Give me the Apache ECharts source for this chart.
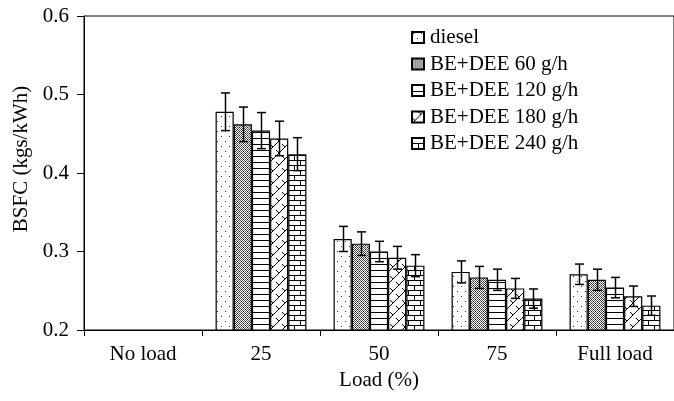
<!DOCTYPE html>
<html>
<head>
<meta charset="utf-8">
<script src="https://cdn.jsdelivr.net/npm/echarts@6/dist/echarts.min.js"></script>
<style>
  html, body { margin: 0; padding: 0; background: #fff; }
  #chart { width: 674px; height: 401px; }
</style>
</head>
<body>
<div id="chart"></div>
<script>
// Engine load categories and BSFC measurements (kgs/kWh) with error margins
const categories = ['No load', '25', '50', '75', 'Full load'];
const seriesNames = ['diesel', 'BE+DEE 60 g/h', 'BE+DEE 120 g/h', 'BE+DEE 180 g/h', 'BE+DEE 240 g/h'];

const diesel   = [null, 0.478, 0.316, 0.274, 0.271];
const dee60    = [null, 0.462, 0.310, 0.267, 0.264];
const dee120   = [null, 0.454, 0.300, 0.264, 0.254];
const dee180   = [null, 0.444, 0.292, 0.253, 0.243];
const dee240   = [null, 0.424, 0.282, 0.240, 0.231];

const errDiesel = [null, 0.024, 0.016, 0.014, 0.013];
const err60     = [null, 0.022, 0.015, 0.014, 0.0135];
const err120    = [null, 0.023, 0.013, 0.0135, 0.013];
const err180    = [null, 0.022, 0.0145, 0.0127, 0.013];
const err240    = [null, 0.021, 0.014, 0.0123, 0.0123];

const yTicks = [0.2, 0.3, 0.4, 0.5, 0.6];

const values = [diesel, dee60, dee120, dee180, dee240];
const errors = [errDiesel, err60, err120, err180, err240];

const FONT = '"Liberation Serif", "Times New Roman", serif';
const FS = 21;
const CAT_GAP = 0.23;

// Monochrome fill patterns drawn on small tiles
function tile(w, h, draw) {
  const c = document.createElement('canvas');
  c.width = w; c.height = h;
  const ctx = c.getContext('2d');
  ctx.fillStyle = '#fff';
  ctx.fillRect(0, 0, w, h);
  ctx.fillStyle = '#000';
  ctx.strokeStyle = '#000';
  ctx.lineWidth = 1;
  draw(ctx);
  return { image: c, repeat: 'repeat' };
}

const patterns = [
  // sparse dots
  tile(8, 10, ctx => {
    ctx.fillStyle = '#333';
    ctx.fillRect(1, 1, 1, 1);
    ctx.fillRect(5, 6, 1, 1);
  }),
  // dense stipple
  tile(4, 4, ctx => {
    ctx.fillStyle = '#555';
    for (let y = 0; y < 4; y++) for (let x = 0; x < 4; x++) {
      if ((x + y) % 2 === 0) ctx.fillRect(x, y, 1, 1);
    }
    ctx.fillStyle = '#111';
    ctx.fillRect(1, 1, 1, 1);
    ctx.fillRect(3, 3, 1, 1);
  }),
  // horizontal stripes
  tile(6, 6, ctx => {
    ctx.fillRect(0, 0, 6, 1);
  }),
  // zigzag diagonals
  tile(12, 12, ctx => {
    ctx.beginPath();
    ctx.moveTo(0, 12); ctx.lineTo(12, 0);
    ctx.moveTo(0, 6); ctx.lineTo(3, 9);
    ctx.moveTo(6, 0); ctx.lineTo(9, 3);
    ctx.stroke();
  }),
  // brick
  tile(12, 10, ctx => {
    ctx.fillRect(0, 0, 12, 1);
    ctx.fillRect(0, 5, 12, 1);
    ctx.fillRect(0, 0, 1, 5);
    ctx.fillRect(6, 5, 1, 5);
  })
];

const barSeries = seriesNames.map((name, i) => ({
  name: name,
  type: 'bar',
  data: values[i],
  barGap: '0%',
  barCategoryGap: (CAT_GAP * 100) + '%',
  itemStyle: {
    color: patterns[i],
    borderColor: '#000',
    borderWidth: 1.2
  },
  emphasis: { disabled: true },
  z: 2
}));

// Error bar rows: [category index, series index, value, error]
const errRows = [];
values.forEach((arr, s) => {
  arr.forEach((v, c) => {
    if (v != null) errRows.push([c, s, v, errors[s][c]]);
  });
});

const errorSeries = {
  type: 'custom',
  name: 'error',
  data: errRows,
  encode: { x: 0, y: 2 },
  z: 5,
  silent: true,
  renderItem: function (params, api) {
    const c = api.value(0);
    const s = api.value(1);
    const v = api.value(2);
    const e = api.value(3);
    const band = api.size([1, 0])[0];
    const barW = band * (1 - CAT_GAP) / seriesNames.length;
    const center = api.coord([c, v]);
    const x = Math.round(center[0] + (s - (seriesNames.length - 1) / 2) * barW) + 0.5;
    const yTop = api.coord([c, v + e])[1];
    const yBot = api.coord([c, v - e])[1];
    const cap = 4.5;
    const style = { stroke: '#000', lineWidth: 1.5 };
    return {
      type: 'group',
      children: [
        { type: 'line', shape: { x1: x, y1: yTop, x2: x, y2: yBot }, style: style },
        { type: 'line', shape: { x1: x - cap, y1: yTop, x2: x + cap, y2: yTop }, style: style },
        { type: 'line', shape: { x1: x - cap, y1: yBot, x2: x + cap, y2: yBot }, style: style }
      ]
    };
  }
};

const chart = echarts.init(document.getElementById('chart'), null, { renderer: 'canvas' });

chart.setOption({
  animation: false,
  backgroundColor: '#fff',
  textStyle: { fontFamily: FONT, color: '#000' },
  grid: {
    left: 84,
    right: -8,
    top: 16,
    bottom: 71,
    show: true,
    borderColor: '#000',
    borderWidth: 1,
    backgroundColor: 'transparent'
  },
  legend: {
    data: seriesNames,
    orient: 'vertical',
    left: 406,
    top: 22,
    itemWidth: 12,
    itemHeight: 11,
    itemGap: 5.5,
    selectedMode: false,
    textStyle: { fontFamily: FONT, fontSize: FS, color: '#000', padding: [0, 0, 0, 1] },
    icon: 'rect'
  },
  xAxis: {
    type: 'category',
    data: categories,
    name: 'Load (%)',
    nameLocation: 'middle',
    nameGap: 37,
    nameTextStyle: { fontFamily: FONT, fontSize: FS, color: '#000' },
    axisLine: { lineStyle: { color: '#000', width: 1 } },
    axisTick: { show: true, length: 6, lineStyle: { color: '#000' } },
    axisLabel: { fontFamily: FONT, fontSize: FS, color: '#000', margin: 14 },
    splitLine: { show: false }
  },
  yAxis: {
    type: 'value',
    min: yTicks[0],
    max: yTicks[yTicks.length - 1],
    interval: 0.1,
    name: 'BSFC (kgs/kWh)',
    nameLocation: 'middle',
    nameGap: 41,
    nameTextStyle: { fontFamily: FONT, fontSize: FS, color: '#000', padding: [0, 0, 0, 28] },
    axisLine: { show: true, lineStyle: { color: '#000', width: 1 } },
    axisTick: { show: true, length: 7, lineStyle: { color: '#000' } },
    axisLabel: {
      fontFamily: FONT, fontSize: FS, color: '#000', margin: 15,
      formatter: v => v.toFixed(1)
    },
    splitLine: { show: false }
  },
  series: barSeries.concat([errorSeries])
});
</script>
</body>
</html>
